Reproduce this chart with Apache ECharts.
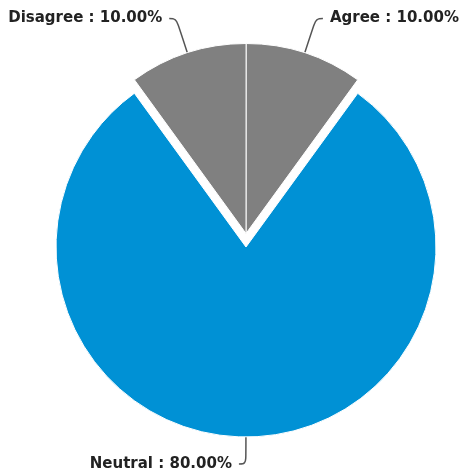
<!DOCTYPE html>
<html>
<head>
<meta charset="utf-8">
<script src="https://cdn.jsdelivr.net/npm/echarts@6/dist/echarts.min.js"></script>
<style>
  html, body { margin: 0; padding: 0; background: #fff; }
  #chart { width: 465px; height: 474px; }
</style>
</head>
<body>
<div id="chart"></div>
<script>
// Survey response shares
const categories = ['Agree', 'Neutral', 'Disagree'];
const values = [10, 80, 10];
const colors = ['#808080', '#0091d5', '#808080'];
const leaderLengths = [36, 27, 36];

const total = values.reduce((a, b) => a + b, 0);
const chart = echarts.init(document.getElementById('chart'), null, { renderer: 'canvas' });

chart.setOption({
  animation: false,
  series: [{
    type: 'pie',
    center: [246, 233.5],
    radius: [0, 190],
    // a hair under 90 so the bottom slice's label falls on the left side
    startAngle: 89.98,
    clockwise: true,
    selectedMode: 'single',
    selectedOffset: 13.5,
    avoidLabelOverlap: false,
    itemStyle: { borderColor: '#ffffff', borderWidth: 1 },
    label: {
      show: true,
      position: 'outside',
      fontFamily: 'DejaVu Sans',
      fontWeight: 'bold',
      fontSize: 15,
      color: '#222',
      distanceToLabelLine: 7,
      formatter: p => p.name + ' : ' + (p.value / total * 100).toFixed(2) + '%'
    },
    labelLine: {
      show: true,
      length2: 7,
      smooth: 0.4,
      lineStyle: { color: '#555', width: 1.5 }
    },
    emphasis: { disabled: true },
    data: categories.map((name, i) => ({
      name,
      value: values[i],
      selected: name === 'Neutral',
      itemStyle: { color: colors[i] },
      labelLine: { length: leaderLengths[i] }
    }))
  }]
});
</script>
</body>
</html>
